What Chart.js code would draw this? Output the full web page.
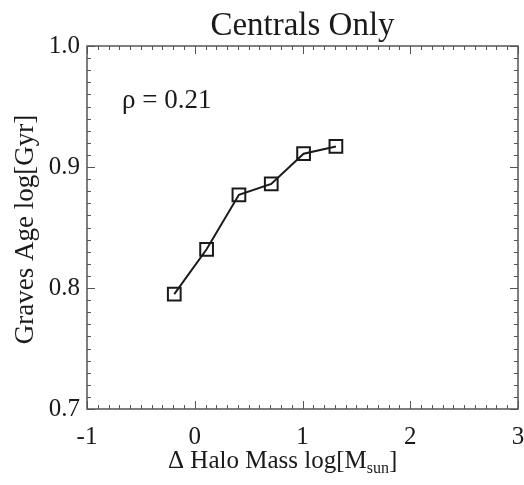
<!DOCTYPE html>
<html>
<head>
<meta charset="utf-8">
<script src="https://cdn.jsdelivr.net/npm/chart.js@4"></script>
<style>
  html, body { margin: 0; padding: 0; background: #fff; }
  #chart { display: block; }
</style>
</head>
<body>
<canvas id="chart" width="524" height="485"></canvas>
<script>
// ── Data ──────────────────────────────────────────────────────────────────────
const haloMass = [-0.19, 0.11, 0.41, 0.71, 1.01, 1.31];
const gravesAge = [0.795, 0.832, 0.877, 0.886, 0.911, 0.917];
const xTicks = [-1, 0, 1, 2, 3];
const yTicks = [0.7, 0.8, 0.9, 1.0];
const TITLE = "Centrals Only";
const RHO = "ρ = 0.21";

const SERIF = "'Liberation Serif', 'DejaVu Serif', serif";
const INK = "#1a1a1a";
const AXIS = "#555";

// ── Frame: box + inward ticks on all four sides, title, labels ───────────────
const frame = {
  id: "frame",
  afterDraw(chart) {
    const { ctx, chartArea: a, scales: { x, y } } = chart;
    ctx.save();
    ctx.strokeStyle = AXIS;
    ctx.lineWidth = 1.5;
    ctx.strokeRect(a.left, a.top, a.right - a.left, a.bottom - a.top);

    ctx.lineWidth = 1;
    ctx.beginPath();
    for (let i = 0; i <= 40; i++) {
      const v = -1 + i * 0.1;
      const px = Math.round(x.getPixelForValue(v)) + 0.5;
      const len = i % 10 === 0 ? 8 : 4;
      ctx.moveTo(px, a.bottom); ctx.lineTo(px, a.bottom - len);
      ctx.moveTo(px, a.top);    ctx.lineTo(px, a.top + len);
    }
    for (let i = 0; i <= 30; i++) {
      const v = 0.7 + i * 0.01;
      const py = Math.round(y.getPixelForValue(v)) + 0.5;
      const len = i % 10 === 0 ? 8 : 4;
      ctx.moveTo(a.left, py);  ctx.lineTo(a.left + len, py);
      ctx.moveTo(a.right, py); ctx.lineTo(a.right - len, py);
    }
    ctx.stroke();

    ctx.fillStyle = INK;
    // title
    ctx.font = "33px " + SERIF;
    ctx.textAlign = "center";
    ctx.textBaseline = "alphabetic";
    ctx.fillText(TITLE, (a.left + a.right) / 2, 35);

    // correlation note
    ctx.font = "27px " + SERIF;
    ctx.textAlign = "left";
    ctx.fillText(RHO, 122, 108);

    // x axis title with subscript
    ctx.font = "25px " + SERIF;
    let xs = 168;
    const base = 468;
    const p1 = "Δ Halo Mass log[M";
    ctx.fillText(p1, xs, base);
    xs += ctx.measureText(p1).width;
    ctx.font = "16px " + SERIF;
    ctx.fillText("sun", xs, base + 5);
    xs += ctx.measureText("sun").width;
    ctx.font = "25px " + SERIF;
    ctx.fillText("]", xs, base);

    // y axis title
    ctx.translate(33, (a.top + a.bottom) / 2 + 2);
    ctx.rotate(-Math.PI / 2);
    ctx.font = "27px " + SERIF;
    ctx.textAlign = "center";
    ctx.fillText("Graves Age log[Gyr]", 0, 0);
    ctx.restore();
  }
};

// ── Chart ─────────────────────────────────────────────────────────────────────
new Chart(document.getElementById("chart"), {
  type: "scatter",
  data: {
    datasets: [{
      data: haloMass.map((v, i) => ({ x: v, y: gravesAge[i] })),
      showLine: true,
      borderColor: INK,
      borderWidth: 2,
      pointStyle: "rect",
      pointRadius: 9,
      pointBorderWidth: 2,
      pointBorderColor: INK,
      pointBackgroundColor: "rgba(0,0,0,0)",
      tension: 0,
    }],
  },
  options: {
    responsive: false,
    animation: false,
    layout: { autoPadding: false, padding: { top: 46, right: 0, left: 0, bottom: 0 } },
    plugins: { legend: { display: false }, tooltip: { enabled: false } },
    scales: {
      x: {
        type: "linear",
        min: -1, max: 3,
        afterBuildTicks: s => { s.ticks = xTicks.map(v => ({ value: v })); },
        afterFit: s => { s.height = 76; s.paddingLeft = 0; s.paddingRight = 6; },
        grid: { display: false, drawTicks: false },
        border: { display: false },
        ticks: { color: INK, padding: 13, font: { family: SERIF, size: 25 }, maxRotation: 0 },
      },
      y: {
        type: "linear",
        min: 0.7, max: 1.0,
        afterBuildTicks: s => { s.ticks = yTicks.map(v => ({ value: v })); },
        afterFit: s => { s.width = 87; s.paddingTop = 0; s.paddingBottom = 0; },
        grid: { display: false, drawTicks: false },
        border: { display: false },
        ticks: { color: INK, padding: 7, font: { family: SERIF, size: 25 },
                 callback: v => (+v).toFixed(1) },
      },
    },
  },
  plugins: [frame],
});
</script>
</body>
</html>
